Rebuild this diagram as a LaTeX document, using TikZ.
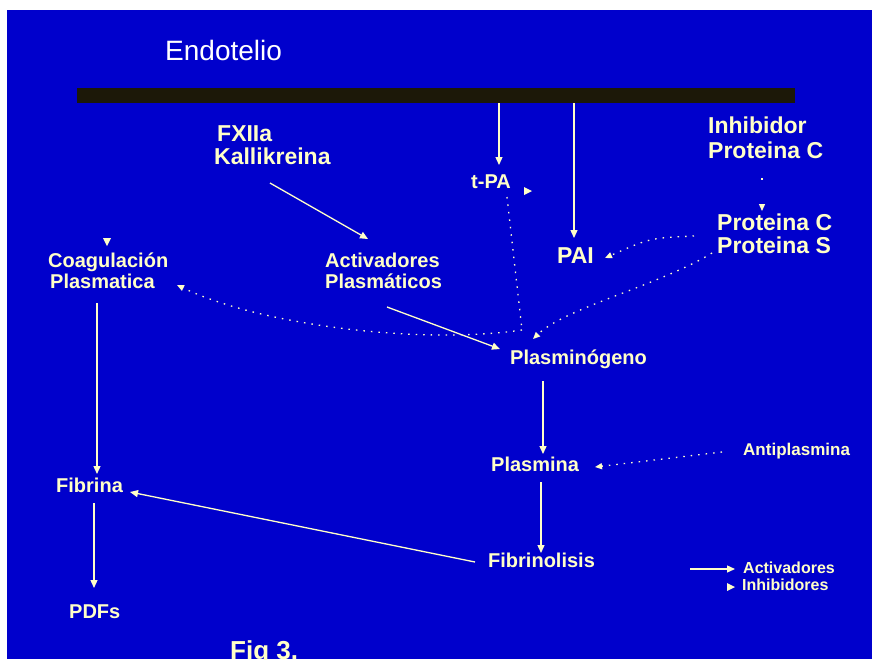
\documentclass[tikz,border=0pt]{standalone}
\usepackage{fontspec}
\setmainfont{Liberation Sans}
\usetikzlibrary{arrows.meta}
\definecolor{bgblue}{RGB}{0,0,204}
\definecolor{txt}{RGB}{255,255,200}
\definecolor{barc}{RGB}{28,24,8}
\begin{document}
\begin{tikzpicture}[x=1pt,y=-1pt,
  lbl/.style={text=txt,inner sep=0pt,anchor=base west,font=\bfseries\fontsize{20}{24}\selectfont},
  big/.style={lbl,font=\bfseries\fontsize{23}{27}\selectfont},
  small/.style={lbl,font=\bfseries\fontsize{16}{19}\selectfont},
  conn/.style={draw=txt,line width=1.3pt,-{Triangle[length=8pt,width=7pt]}},
  dots/.style={draw=txt,line width=1.3pt,dash pattern=on 1.5pt off 6pt,-{Triangle[length=7pt,width=6pt]}},
  tipmark/.style={fill=txt}]
\useasboundingbox (0,0) rectangle (872,659);
\fill[white] (0,0) rectangle (872,659);
\fill[bgblue] (7,10) rectangle (872,659);
\node[fill=barc,minimum width=718pt,minimum height=15pt,inner sep=0pt,anchor=north west] (bar) at (77,88) {};

% texts
\node[lbl,font=\fontsize{28}{32}\selectfont,text=white] (endo) at (165,60) {Endotelio};
\node[big] (fxa) at (217,141) {FXIIa};
\node[big] (kal) at (214,164) {Kallikreina};
\node[big] (inh) at (708,133) {Inhibidor};
\node[big] (protc1) at (708,158) {Proteina C};
\node[lbl] (tpa) at (471,188) {t-PA};
\node[big] (pai) at (557,263) {PAI};
\node[big] (protc2) at (717,230) {Proteina C};
\node[big] (prots) at (717,253) {Proteina S};
\node[lbl] (coag) at (48,267) {Coagulación};
\node[lbl] (plasmat) at (50,288) {Plasmatica};
\node[lbl] (act) at (325,267) {Activadores};
\node[lbl] (plasmc) at (325,288) {Plasmáticos};
\node[lbl] (plgn) at (510,364) {Plasminógeno};
\node[lbl] (pla) at (491,471) {Plasmina};
\node[lbl,font=\bfseries\fontsize{17}{20}\selectfont] (anti) at (743,455) {Antiplasmina};
\node[lbl] (fbl) at (488,567) {Fibrinolisis};
\node[lbl] (fib) at (56,492) {Fibrina};
\node[lbl] (pdf) at (69,618) {PDFs};
\node[lbl,font=\bfseries\fontsize{26}{30}\selectfont] (fig) at (230,659) {Fig 3.};
\node[small] (lact) at (743,573) {Activadores};
\node[small] (linh) at (742,590) {Inhibidores};

% connector end points
\coordinate (bar1) at (499,103);
\coordinate (tpain) at (499,165);
\coordinate (bar2) at (574,103);
\coordinate (paiin) at (574,238);
\coordinate (fxout) at (270,183);
\coordinate (actin) at (368,239);
\coordinate (actout) at (387,307);
\coordinate (plgnin) at (500,349);
\coordinate (plgnout) at (543,381);
\coordinate (plain) at (543,454);
\coordinate (plaout) at (541,482);
\coordinate (fblin) at (541,553);
\coordinate (fblout) at (475,562);
\coordinate (fibin) at (130,492);
\coordinate (coagout) at (97,303);
\coordinate (fibtop) at (97,474);
\coordinate (fibout) at (94,503);
\coordinate (pdfin) at (94,588);
\coordinate (leg1) at (690,569);
\coordinate (leg2) at (735,569);
\coordinate (inhout) at (762,178);
\coordinate (pcin) at (762,211);
\coordinate (psout1) at (694,236);
\coordinate (paiside) at (605,258);
\coordinate (psout2) at (712,253);
\coordinate (plgntop) at (533,339);
\coordinate (tpaout) at (507,197);
\coordinate (junc) at (522,330);
\coordinate (coagin) at (177,285);
\coordinate (antiout) at (722,452);
\coordinate (plaside) at (595,467);

% solid connectors
\draw[conn] (bar1) -- (tpain);
\draw[conn] (bar2) -- (paiin);
\draw[conn] (fxout) -- (actin);
\draw[conn] (actout) -- (plgnin);
\draw[conn] (plgnout) -- (plain);
\draw[conn] (plaout) -- (fblin);
\draw[conn] (fblout) -- (fibin);
\draw[conn] (coagout) -- (fibtop);
\draw[conn] (fibout) -- (pdfin);
\draw[conn] (leg1) -- (leg2);

% dotted connectors
\draw[dots,dash pattern=on 1.5pt off 30pt] (inhout) -- (pcin);
\draw[dots] (psout1) .. controls (650,238) .. (paiside);
\draw[dots] (psout2) .. controls (660,285) and (565,308) .. (plgntop);
\draw[dots,-] (tpaout) -- (junc);
\draw[dots] (junc) .. controls (420,345) and (260,325) .. (coagin);
\draw[dots] (antiout) -- (plaside);

% isolated arrow tips
\fill[tipmark] (103,238) -- (111,238) -- (107,246) -- cycle;
\fill[tipmark] (524,187) -- (524,195) -- (532,191) -- cycle;
\fill[tipmark] (727,583) -- (727,591) -- (735,587) -- cycle;
\end{tikzpicture}
\end{document}
